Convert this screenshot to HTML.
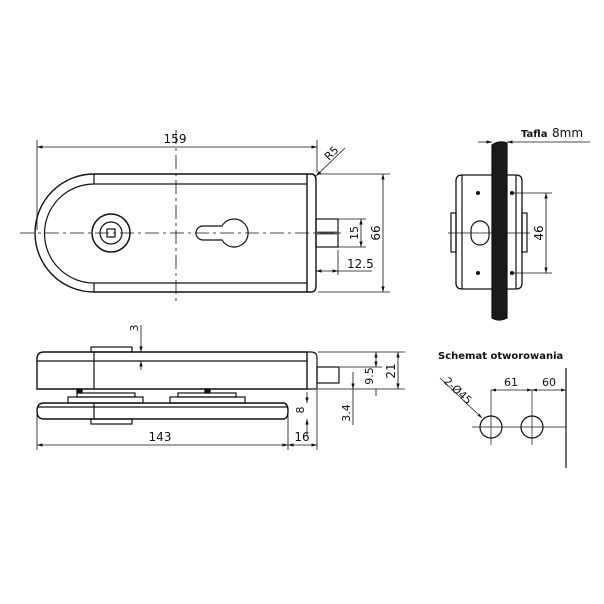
<!DOCTYPE html>
<html><head><meta charset="utf-8"><style>
html,body{margin:0;padding:0;background:#fff}
svg{display:block}
text{font-family:"DejaVu Sans","Liberation Sans",sans-serif;fill:#111}
</style></head><body>
<svg width="604" height="604" viewBox="0 0 604 604" xmlns="http://www.w3.org/2000/svg">
<defs>
<marker id="a" viewBox="0 0 10 10" refX="10" refY="5" markerWidth="7" markerHeight="7" orient="auto-start-reverse"><path d="M0,2 L10,5 L0,8 z" fill="#111"/></marker>
</defs>
<g fill="none" stroke="#111" stroke-width="1.2">
<!-- TOP VIEW -->
<path d="M94,174 L307,174 L307,292 L94,292 A59,59 0 0 1 94,174 Z" stroke-width="1.4"/>
<path d="M307,174 L311,174 Q316,174 316,180 L316,286 Q316,292 311,292 L307,292" stroke-width="1.4"/>
<path d="M94,184 L307,184 M94,283 L307,283"/>
<path d="M94,184 A49,49 0 0 0 94,283"/>
<line x1="94" y1="174" x2="94" y2="184"/><line x1="94" y1="283" x2="94" y2="292"/>
<circle cx="111" cy="233" r="19" stroke-width="1.5"/>
<circle cx="111" cy="233" r="11"/>
<rect x="107" y="229" width="8" height="8"/>
<path d="M222,226 A14,14 0 1 1 222,240 L203,240 A7,7 0 0 1 203,226 Z"/>
<rect x="316" y="219" width="22" height="28"/>
<line x1="316" y1="233" x2="338" y2="233" stroke-width="3" stroke="#555"/>
<line x1="20" y1="233" x2="345" y2="233" stroke-width="0.8" stroke-dasharray="14,4,3,4"/>
<line x1="176" y1="130" x2="176" y2="305" stroke-width="0.8" stroke-dasharray="14,4,3,4"/>
<g stroke-width="0.8">
<line x1="37" y1="140" x2="37" y2="230"/><line x1="317" y1="140" x2="317" y2="172"/>
<line x1="37" y1="147" x2="317" y2="147" marker-start="url(#a)" marker-end="url(#a)"/>
<line x1="345" y1="148" x2="316" y2="176" marker-end="url(#a)"/>
<line x1="318" y1="174" x2="390" y2="174"/><line x1="318" y1="292" x2="390" y2="292"/>
<line x1="383" y1="174" x2="383" y2="292" marker-start="url(#a)" marker-end="url(#a)"/>
<line x1="338" y1="219" x2="366" y2="219"/><line x1="338" y1="247" x2="366" y2="247"/>
<line x1="361" y1="219" x2="361" y2="247" marker-start="url(#a)" marker-end="url(#a)"/>
<line x1="338" y1="250" x2="338" y2="275"/>
<line x1="316" y1="271" x2="338" y2="271" marker-start="url(#a)" marker-end="url(#a)"/>
<line x1="338" y1="271" x2="372" y2="271"/>
</g>
<!-- SIDE VIEW -->
<path d="M44,352 L307,352 L307,389 L37,389 L37,359 Q37,352 44,352 Z" stroke-width="1.4"/>
<path d="M307,352 L311,352 Q317,352 317,358 L317,389 L307,389"/>
<line x1="37" y1="361" x2="307" y2="361"/>
<line x1="94" y1="352" x2="94" y2="389"/>
<rect x="91" y="347" width="41" height="5"/>
<rect x="317" y="367" width="22" height="16"/>
<path d="M44,403 L283,403 Q288,403 288,411 Q288,419 283,419 L44,419 Q37,419 37,411 Q37,403 44,403 Z" stroke-width="1.4"/>
<line x1="37" y1="407" x2="288" y2="407"/>
<line x1="94" y1="403" x2="94" y2="419"/>
<rect x="91" y="419" width="41" height="5"/>
<rect x="68" y="397" width="75" height="6"/><rect x="77" y="393" width="58" height="4"/>
<rect x="170" y="397" width="75" height="6"/><rect x="178" y="393" width="58" height="4"/>
<rect x="77" y="389" width="5" height="4" fill="#111"/><rect x="205" y="389" width="5" height="4" fill="#111"/>
<g stroke-width="0.8">
<line x1="141" y1="325" x2="141" y2="352" marker-end="url(#a)"/>
<line x1="141" y1="370" x2="141" y2="361" marker-end="url(#a)"/>
<line x1="37" y1="415" x2="37" y2="450"/><line x1="288" y1="415" x2="288" y2="450"/><line x1="317" y1="390" x2="317" y2="450"/>
<line x1="37" y1="445" x2="288" y2="445" marker-start="url(#a)" marker-end="url(#a)"/>
<line x1="288" y1="445" x2="317" y2="445" marker-start="url(#a)" marker-end="url(#a)"/>
<line x1="307" y1="392" x2="307" y2="403" marker-end="url(#a)"/>
<line x1="307" y1="435" x2="307" y2="419" marker-end="url(#a)"/>
<line x1="318" y1="352" x2="405" y2="352"/><line x1="318" y1="389" x2="405" y2="389"/>
<line x1="340" y1="367" x2="382" y2="367"/>
<line x1="398" y1="352" x2="398" y2="389" marker-start="url(#a)" marker-end="url(#a)"/>
<line x1="376" y1="352" x2="376" y2="367" marker-start="url(#a)" marker-end="url(#a)"/>
<line x1="376" y1="389" x2="376" y2="396"/>
<line x1="353" y1="372" x2="353" y2="389" marker-end="url(#a)"/>
<line x1="353" y1="425" x2="353" y2="389"/>
</g>
<!-- RIGHT VIEW -->
<path d="M462,175 L516,175 Q522,175 522,181 L522,283 Q522,289 516,289 L462,289 Q456,289 456,283 L456,181 Q456,175 462,175 Z" stroke-width="1.3"/>
<line x1="462" y1="175" x2="462" y2="289"/><line x1="516" y1="175" x2="516" y2="289"/>
<rect x="451" y="213" width="5" height="39"/><rect x="522" y="213" width="5" height="39"/>
<rect x="471" y="221" width="18" height="24" rx="9"/>
<line x1="448" y1="233" x2="530" y2="233" stroke-width="0.7"/>
<g fill="#111" stroke="none"><circle cx="478" cy="193" r="2"/><circle cx="512" cy="193" r="2"/><circle cx="478" cy="273" r="2"/><circle cx="512" cy="273" r="2"/></g>
<path d="M492,145 Q499,140 507,143 L507,318 Q499,322 492,318 Z" fill="#1a1a1a"/>
<g stroke-width="0.8">
<line x1="514" y1="193" x2="552" y2="193"/><line x1="514" y1="273" x2="552" y2="273"/>
<line x1="546" y1="193" x2="546" y2="273" marker-start="url(#a)" marker-end="url(#a)"/>
<line x1="478" y1="142" x2="492" y2="142" marker-end="url(#a)"/>
<line x1="590" y1="142" x2="507" y2="142" marker-end="url(#a)"/>
</g>
<!-- SCHEMAT -->
<circle cx="491" cy="427" r="11"/><circle cx="532" cy="427" r="11"/>
<g stroke-width="0.7">
<line x1="472" y1="427" x2="566" y2="427"/>
<line x1="491" y1="390" x2="491" y2="445"/><line x1="532" y1="390" x2="532" y2="445"/>
<line x1="566" y1="368" x2="566" y2="468" stroke-width="1.2"/>
<line x1="491" y1="390" x2="532" y2="390" marker-start="url(#a)" marker-end="url(#a)"/>
<line x1="532" y1="390" x2="566" y2="390" marker-start="url(#a)" marker-end="url(#a)"/>
<line x1="440" y1="378" x2="482" y2="418" marker-end="url(#a)"/>
</g>
</g>
<!-- TEXT -->
<text x="175" y="143" font-size="12" text-anchor="middle">159</text>
<text x="0" y="0" font-size="11" transform="translate(329,161) rotate(-45)">R5</text>
<text x="0" y="0" font-size="12" text-anchor="middle" transform="translate(380,233) rotate(-90)">66</text>
<text x="0" y="0" font-size="11" text-anchor="middle" transform="translate(358,233) rotate(-90)">15</text>
<text x="347" y="268" font-size="12">12.5</text>
<text x="0" y="0" font-size="11" text-anchor="middle" transform="translate(138,328) rotate(-90)">3</text>
<text x="160" y="441" font-size="12" text-anchor="middle">143</text>
<text x="302" y="441" font-size="12" text-anchor="middle">16</text>
<text x="0" y="0" font-size="11" text-anchor="middle" transform="translate(304,410) rotate(-90)">8</text>
<text x="0" y="0" font-size="11" text-anchor="middle" transform="translate(350,413) rotate(-90)">3.4</text>
<text x="0" y="0" font-size="11" text-anchor="middle" transform="translate(373,376) rotate(-90)">9.5</text>
<text x="0" y="0" font-size="12" text-anchor="middle" transform="translate(395,371) rotate(-90)">21</text>
<text x="0" y="0" font-size="12" text-anchor="middle" transform="translate(543,233) rotate(-90)">46</text>
<text x="521" y="137" font-size="10" font-weight="bold">Tafla</text>
<text x="552" y="137" font-size="12">8mm</text>
<text x="438" y="359" font-size="10" font-weight="bold">Schemat otworowania</text>
<text x="511" y="386" font-size="11" text-anchor="middle">61</text>
<text x="549" y="386" font-size="11" text-anchor="middle">60</text>
<text x="0" y="0" font-size="11" transform="translate(443,382) rotate(43)">2-Ø45</text>
</svg>
</body></html>
